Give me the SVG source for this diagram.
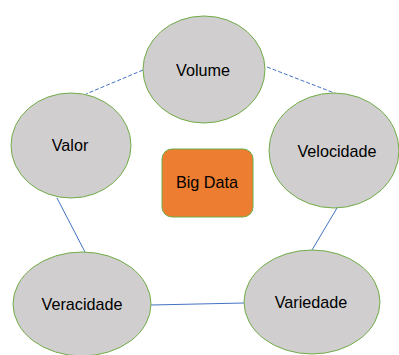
<svg xmlns="http://www.w3.org/2000/svg" width="399" height="355" viewBox="0 0 399 355">
<style>
.n{fill:#D0CECE;stroke:#70AD47;stroke-width:1}
.c{stroke:#4472C4;stroke-width:1;fill:none}
.d{stroke-dasharray:4 2}
.t{font-family:"Liberation Sans",Arial,sans-serif;font-size:16.2px;fill:#000;text-anchor:middle}
</style>
<rect width="399" height="355" fill="#fff"/>
<g id="connectors">
<line class="c d" x1="143" y1="70" x2="86" y2="94"/>
<line class="c d" x1="267" y1="67" x2="337" y2="94"/>
<line class="c" x1="57" y1="198" x2="85" y2="252"/>
<line class="c" x1="337" y1="208" x2="312" y2="250"/>
<line class="c" x1="151" y1="305" x2="244" y2="303"/>
</g>
<g id="volume"><ellipse class="n" cx="204" cy="69.5" rx="61" ry="53.5"/><text class="t" x="203" y="76">Volume</text></g>
<g id="valor"><ellipse class="n" cx="71" cy="145.5" rx="60" ry="52.5"/><text class="t" x="70" y="151">Valor</text></g>
<g id="velocidade"><ellipse class="n" cx="334" cy="150.5" rx="65" ry="57.5"/><text class="t" x="337" y="157">Velocidade</text></g>
<g id="veracidade"><ellipse class="n" cx="82" cy="304" rx="69" ry="52"/><text class="t" x="82" y="310">Veracidade</text></g>
<g id="variedade"><ellipse class="n" cx="312" cy="302" rx="68" ry="52"/><text class="t" x="311" y="308">Variedade</text></g>
<g id="bigdata"><rect x="162" y="149" width="91" height="68" rx="10" fill="#ED7D31" stroke="#70AD47" stroke-width="1"/><text class="t" x="207" y="188">Big Data</text></g>
</svg>
